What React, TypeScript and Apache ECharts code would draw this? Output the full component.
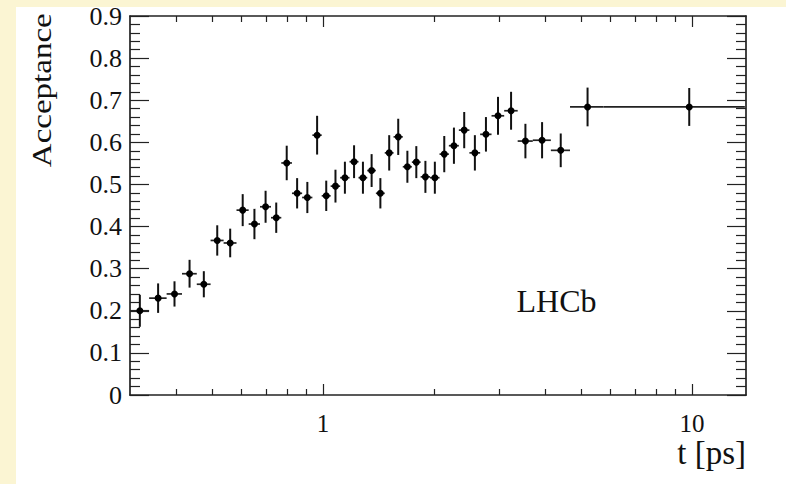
import React, { useEffect, useRef } from "react";
import * as echarts from "echarts";

// Bin edges in t [ps]
const binEdges = [
  0.300, 0.338, 0.377, 0.415, 0.455, 0.496, 0.538, 0.583, 0.629, 0.675,
  0.723, 0.771, 0.824, 0.878, 0.936, 0.992, 1.049, 1.113, 1.180, 1.248,
  1.318, 1.391, 1.470, 1.553, 1.645, 1.741, 1.839, 1.950, 2.069, 2.193,
  2.334, 2.493, 2.666, 2.862, 3.097, 3.369, 3.702, 4.144, 4.67, 5.75, 13.9,
];

// Acceptance values per bin
const acceptance = [
  0.200, 0.230, 0.240, 0.288, 0.263, 0.367, 0.361, 0.439, 0.406, 0.447,
  0.421, 0.551, 0.479, 0.469, 0.617, 0.473, 0.496, 0.516, 0.554, 0.516,
  0.533, 0.479, 0.575, 0.613, 0.542, 0.553, 0.518, 0.516, 0.572, 0.592,
  0.629, 0.575, 0.619, 0.663, 0.675, 0.603, 0.605, 0.581, 0.684, 0.684,
];

// Vertical (statistical) errors per bin
const accErr = [
  0.038, 0.035, 0.030, 0.033, 0.031, 0.036, 0.034, 0.038, 0.036, 0.038,
  0.036, 0.041, 0.036, 0.037, 0.046, 0.036, 0.039, 0.038, 0.039, 0.038,
  0.039, 0.036, 0.042, 0.043, 0.038, 0.038, 0.038, 0.038, 0.043, 0.043,
  0.043, 0.042, 0.041, 0.045, 0.045, 0.041, 0.043, 0.040, 0.046, 0.045,
];

const xMajorTicks = [1, 10];
const xMinorTicks = [0.4, 0.5, 0.6, 0.7, 0.8, 0.9, 2, 3, 4, 5, 6, 7, 8, 9];
const xLabels = [1, 10];
const xMin = 0.3;
const xMax = 14;
const yMin = 0;
const yMax = 0.9;
const yStep = 0.1;

const SERIF = '"Liberation Serif", "DejaVu Serif", "Times New Roman", serif';
const INK = "#111";

export default function App() {
  const ref = useRef<HTMLDivElement>(null);

  useEffect(() => {
    document.body.style.margin = "0";
    const chart = echarts.init(ref.current as HTMLDivElement, null, { renderer: "svg" });

    const points = acceptance.map((v, i) => [binEdges[i], binEdges[i + 1], v, accErr[i]]);

    const lineStyle = { color: "#222", width: 1.7 };
    const tickStyle = { color: "#222", width: 1.2 };

    const xBase = (position: string) => ({
      type: "log",
      logBase: 10,
      min: xMin,
      max: xMax,
      position,
      splitLine: { show: false },
      minorTick: { show: false },
      minorSplitLine: { show: false },
    });

    const xAxes: any[] = [
      {
        ...xBase("bottom"),
        axisLine: { show: true, lineStyle },
        axisTick: { show: true, inside: true, length: 11, lineStyle: tickStyle, customValues: xMajorTicks },
        axisLabel: {
          show: true,
          customValues: xLabels,
          fontFamily: SERIF,
          fontSize: 25,
          color: INK,
          margin: 16,
        },
      },
      {
        ...xBase("bottom"),
        axisLine: { show: false },
        axisTick: { show: true, inside: true, length: 6, lineStyle: tickStyle, customValues: xMinorTicks },
        axisLabel: { show: false },
      },
      {
        ...xBase("top"),
        axisLine: { show: true, lineStyle },
        axisTick: { show: true, inside: true, length: 11, lineStyle: tickStyle, customValues: xMajorTicks },
        axisLabel: { show: false },
      },
      {
        ...xBase("top"),
        axisLine: { show: false },
        axisTick: { show: true, inside: true, length: 6, lineStyle: tickStyle, customValues: xMinorTicks },
        axisLabel: { show: false },
      },
    ];

    const yBase = (position: string, showLabel: boolean) => ({
      type: "value",
      min: yMin,
      max: yMax,
      interval: yStep,
      position,
      splitLine: { show: false },
      axisLine: { show: true, lineStyle },
      axisTick: { show: true, inside: true, length: 19, lineStyle: tickStyle },
      minorTick: { show: true, splitNumber: 5, length: 10, lineStyle: tickStyle },
      axisLabel: {
        show: showLabel,
        fontFamily: SERIF,
        fontSize: 26,
        color: INK,
        margin: 8,
        formatter: (v: number) => (Math.abs(v) < 1e-9 ? "0" : v.toFixed(1)),
      },
    });

    const option: any = {
      animation: false,
      backgroundColor: "#fbf5d3",
      grid: { left: 130, right: 40, top: 16, bottom: 89, containLabel: false },
      xAxis: xAxes,
      yAxis: [yBase("left", true), yBase("right", false)],
      graphic: [
        {
          type: "rect",
          z: -100,
          silent: true,
          shape: { x: 16, y: 7, width: 770, height: 477 },
          style: { fill: "#ffffff" },
        },
        {
          type: "text",
          x: 516.5,
          y: 300.5,
          z: 10,
          style: {
            text: "LHCb",
            font: `32px ${SERIF}`,
            fill: INK,
            align: "left",
            textAlign: "left",
            verticalAlign: "middle",
            textVerticalAlign: "middle",
          },
        },
        {
          type: "text",
          x: 746,
          y: 453,
          z: 10,
          style: {
            text: "t [ps]",
            font: `33px ${SERIF}`,
            fill: INK,
            align: "right",
            textAlign: "right",
            verticalAlign: "middle",
            textVerticalAlign: "middle",
          },
        },
        {
          type: "text",
          x: 42,
          y: 13.3,
          z: 10,
          rotation: Math.PI / 2,
          scaleX: 1,
          scaleY: 0.8,
          style: {
            text: "Acceptance",
            font: `33px ${SERIF}`,
            fill: INK,
            align: "right",
            textAlign: "right",
            verticalAlign: "middle",
            textVerticalAlign: "middle",
          },
        },
      ],
      series: [
        {
          type: "custom",
          xAxisIndex: 0,
          yAxisIndex: 0,
          clip: true,
          encode: { x: [0, 1], y: [2, 3] },
          data: points,
          renderItem: (params: any, api: any) => {
            const lo = api.value(0);
            const hi = api.value(1);
            const v = api.value(2);
            const e = api.value(3);
            const mid = (lo + hi) / 2;
            const pL = api.coord([lo, v]);
            const pR = api.coord([hi, v]);
            const pC = api.coord([mid, v]);
            const pT = api.coord([mid, v + e]);
            const pB = api.coord([mid, v - e]);
            return {
              type: "group",
              children: [
                {
                  type: "line",
                  shape: { x1: pL[0], y1: pL[1], x2: pR[0], y2: pR[1] },
                  style: { stroke: "#222", lineWidth: 1.7 },
                },
                {
                  type: "line",
                  shape: { x1: pT[0], y1: pT[1], x2: pB[0], y2: pB[1] },
                  style: { stroke: "#111", lineWidth: 2 },
                },
                {
                  type: "circle",
                  shape: { cx: pC[0], cy: pC[1], r: 3.5 },
                  style: { fill: "#000" },
                },
              ],
            };
          },
        },
      ],
    };

    chart.setOption(option);
    return () => {
      chart.dispose();
    };
  }, []);

  return (
    <div
      ref={ref}
      style={{ position: "absolute", left: 0, top: 0, width: 786, height: 484 }}
    />
  );
}
